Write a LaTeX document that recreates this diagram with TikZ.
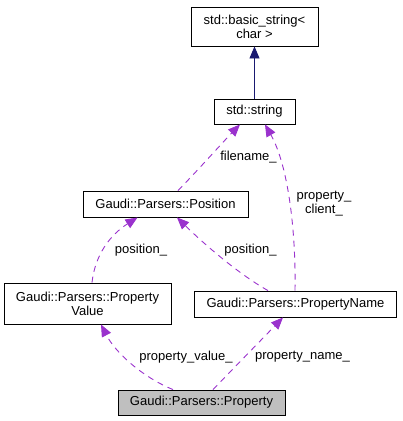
\documentclass[tikz,border=0pt]{standalone}
\usepackage{fontspec}
\setmainfont{Liberation Sans}
\usetikzlibrary{arrows.meta}
\definecolor{edgepurple}{HTML}{9A32CD}
\definecolor{edgenavy}{HTML}{191970}
\definecolor{boxgray}{HTML}{BFBFBF}
\begin{document}
\begin{tikzpicture}[x=1pt,y=-1pt,
  cls/.style={draw=black,line width=0.9pt,fill=white,inner sep=0pt,align=center,
    font=\fontsize{13}{14}\selectfont},
  lbl/.style={inner sep=0pt,align=center,font=\fontsize{13}{14}\selectfont},
  dep/.style={draw=edgepurple,line width=0.9pt,dash pattern=on 6pt off 5pt,
    -{Triangle[length=12pt,width=10pt,fill=edgepurple]}},
  inh/.style={draw=edgenavy,line width=0.9pt,
    -{Triangle[length=12pt,width=10pt,fill=edgenavy]}}]
\useasboundingbox (0,0) rectangle (403,421);
\node[cls,minimum width=127pt,minimum height=39pt] (bs) at (254.5,26.5) {std::basic\_string<\\char >};
\node[cls,minimum width=81pt,minimum height=25pt] (str) at (254.5,111.5) {std::string};
\node[cls,minimum width=165pt,minimum height=26pt] (pos) at (165.5,204) {Gaudi::Parsers::Position};
\node[cls,minimum width=167pt,minimum height=41pt] (pv) at (87.5,303.5) {Gaudi::Parsers::Property\\Value};
\node[cls,minimum width=202pt,minimum height=26pt] (pn) at (295.5,304) {Gaudi::Parsers::PropertyName};
\node[cls,fill=boxgray,minimum width=167pt,minimum height=25pt] (prop) at (201.5,402.5) {Gaudi::Parsers::Property};

\draw[inh] (str.north) -- (bs.south);
\draw[dep] ([xshift=12.5pt]pos.north) .. controls (200,168) and (222,143) .. ([xshift=-14.5pt]str.south);
\draw[dep] ([xshift=-0.5pt]pn.north) .. controls (296,230) and (288,165) .. ([xshift=10.5pt]str.south);
\draw[dep] ([xshift=4.5pt]pv.north) .. controls (95,255) and (110,235) .. ([xshift=-28pt]pos.south);
\draw[dep] ([xshift=-27.5pt]pn.north) .. controls (240,275) and (205,245) .. ([xshift=11.5pt]pos.south);
\draw[dep] ([xshift=-28.5pt]prop.north) .. controls (142,377) and (115,352) .. ([xshift=13.5pt]pv.south);
\draw[dep] ([xshift=11.5pt]prop.north) -- ([xshift=-12.5pt]pn.south);

\node[lbl] (l1) at (248.5,157) {filename\_};
\node[lbl] (l2) at (324,204) {property\_\\client\_};
\node[lbl] (l3) at (141,250) {position\_};
\node[lbl] (l4) at (250.5,250) {position\_};
\node[lbl] (l5) at (186,357) {property\_value\_};
\node[lbl] (l6) at (302.5,357) {property\_name\_};
\end{tikzpicture}
\end{document}
